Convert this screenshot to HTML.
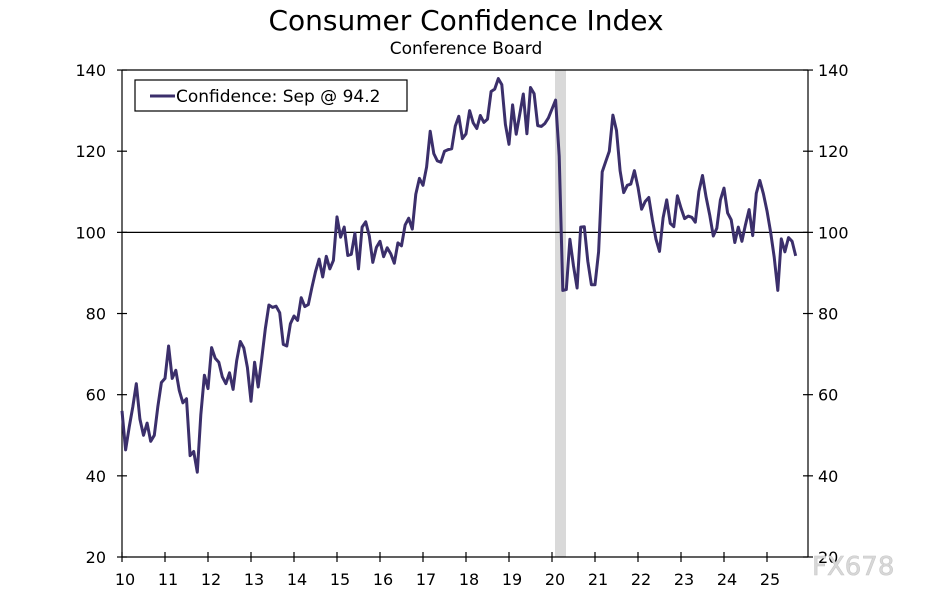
<!DOCTYPE html>
<html><head><meta charset="utf-8"><style>
body{margin:0;background:#fff;}
svg{display:block;font-family:"DejaVu Sans","Liberation Sans",sans-serif;}
</style></head><body>
<svg id="s" width="940" height="600" viewBox="0 0 940 600" xmlns="http://www.w3.org/2000/svg">
<rect width="940" height="600" fill="#fff"/>
<text x="466" y="30" font-size="28" text-anchor="middle" fill="#000">Consumer Confidence Index</text>
<text x="466" y="54" font-size="17" text-anchor="middle" fill="#000">Conference Board</text>
<rect x="555" y="70" width="11" height="487" fill="#d9d9d9"/>
<g stroke="#000" stroke-width="1.2" fill="none">
<line x1="122" y1="70" x2="808" y2="70"/>
<line x1="122" y1="70" x2="122" y2="557"/>
<line x1="808" y1="70" x2="808" y2="557"/>
<line x1="122" y1="557" x2="808" y2="557"/>
<line x1="122" y1="232.4" x2="808" y2="232.4"/>
</g>
<g id="ticks" stroke="#000" stroke-width="1.2"></g>
<g id="labels" font-size="16" fill="#000"></g>
<rect x="135" y="80" width="272" height="31" fill="#fff" stroke="#000" stroke-width="1.2"/>
<line x1="150" y1="96" x2="175" y2="96" stroke="#3b2f6b" stroke-width="3"/>
<text x="176" y="102" font-size="17" fill="#000">Confidence: Sep @ 94.2</text>
<path id="line" fill="none" stroke="#3b2f6b" stroke-width="3" stroke-linejoin="round"/>
<text x="812" y="575" font-size="26" fill="#d8d8d8" stroke="#c8c8c8" stroke-width="0.6">FX678</text>
</svg>
<script>
var d=[56,46.4,52,57,62.7,54,50,53,48.5,50,57,63,
64,72,64,66,61,58,59,45,46,40.9,55,64.8,
61.5,71.6,69,68,64.4,62.7,65.4,61.3,68.4,73.1,71.5,66.7,
58.4,68,61.9,69,76.2,82.1,81.5,81.8,80.2,72.4,72.0,77.5,
79.4,78.3,83.9,81.7,82.2,86.4,90.3,93.4,89,94.1,91,93.1,
103.8,98.8,101.3,94.3,94.6,99.8,91,101.3,102.6,99.1,92.6,96.3,
97.8,94,96.2,94.7,92.4,97.4,96.7,101.8,103.5,100.8,109.4,113.3,
111.6,116.1,124.9,119.4,117.6,117.3,120,120.4,120.6,126.2,128.6,123.1,
124.3,130,127,125.6,128.8,127.1,127.9,134.7,135.3,137.9,136.4,126.6,
121.7,131.4,124.2,129.2,134.1,124.3,135.7,134.2,126.3,126.1,126.8,128.2,
130.4,132.6,118.8,85.7,85.9,98.3,91.7,86.3,101.3,101.4,92.9,87.1,
87.1,95.2,114.9,117.5,120,128.9,125.1,115.2,109.8,111.6,111.9,115.2,
111.1,105.7,107.6,108.6,103.2,98.4,95.3,103.6,108,102.2,101.4,109,
106,103.4,104,103.7,102.5,110.1,114,108.7,104.3,99.1,101,108,
110.9,104.8,103.1,97.5,101.3,97.8,101.9,105.6,99.2,109.6,112.8,109.5,
105.3,100.1,93.9,85.7,98.4,95.2,98.7,97.8,94.2];
function X(t){return 122+t*43;}
function Y(v){return 557-(v-20)*4.058;}
var p="";d.forEach(function(v,i){p+=(i?"L":"M")+X(i/12).toFixed(1)+","+Y(v).toFixed(1);});
document.getElementById("line").setAttribute("d",p);
var ns="http://www.w3.org/2000/svg",tk=document.getElementById("ticks"),lb=document.getElementById("labels");
function el(g,n,a,t){var e=document.createElementNS(ns,n);for(var k in a)e.setAttribute(k,a[k]);if(t)e.textContent=t;g.appendChild(e);}
for(var y=0;y<=15;y++){var x=X(y);el(tk,"line",{x1:x,y1:552,x2:x,y2:562});el(lb,"text",{x:x+3,y:585,"text-anchor":"middle"},String(10+y));}
for(var v=20;v<=140;v+=20){var yy=Y(v);el(tk,"line",{x1:117,y1:yy,x2:127,y2:yy});el(tk,"line",{x1:803,y1:yy,x2:813,y2:yy});
el(lb,"text",{x:106,y:yy+6,"text-anchor":"end"},String(v));el(lb,"text",{x:818,y:yy+6},String(v));}
</script>
</body></html>
